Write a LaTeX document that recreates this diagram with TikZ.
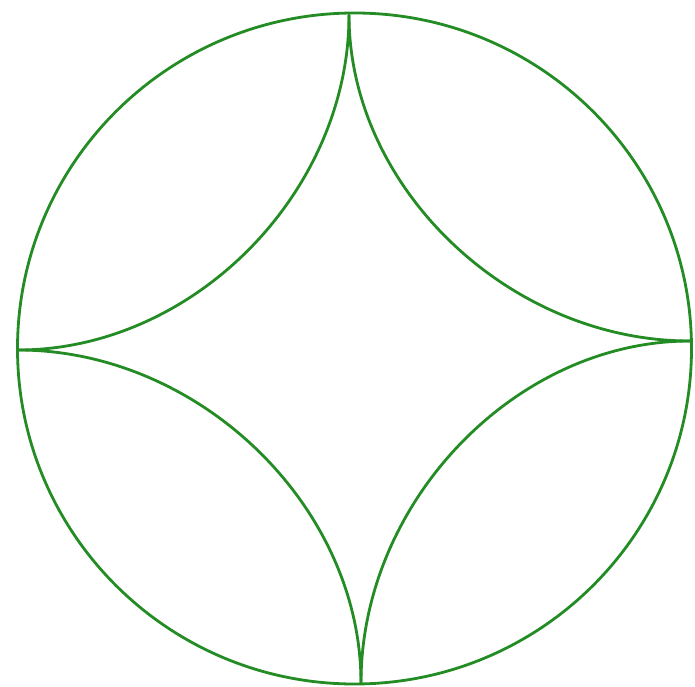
\documentclass[tikz,border=0pt]{standalone}
\usepackage{tikz}
\usetikzlibrary{calc}
\definecolor{curvegreen}{RGB}{36,140,36}
\tikzset{curve/.style={draw=curvegreen,line width=2.8pt,line join=round,line cap=round}}
\begin{document}
\begin{tikzpicture}[x=1pt,y=1pt]
\useasboundingbox (0,0) rectangle (695,686);
\coordinate (c) at (354.5,337.5);
\coordinate (top) at (349,671);
\coordinate (bot) at (361,3);
\coordinate (lft) at (18,336);
\coordinate (rgt) at (690,345);
\draw[curve] (c) ellipse[x radius=337,y radius=335.5];
\draw[curve] (top) .. controls ($(top)!0.53!(top|-lft)$) and ($(lft)!0.53!(top|-lft)$) .. (lft);
\draw[curve] (top) .. controls ($(top)!0.53!(top|-rgt)$) and ($(rgt)!0.53!(top|-rgt)$) .. (rgt);
\draw[curve] (bot) .. controls ($(bot)!0.53!(bot|-lft)$) and ($(lft)!0.53!(bot|-lft)$) .. (lft);
\draw[curve] (bot) .. controls ($(bot)!0.53!(bot|-rgt)$) and ($(rgt)!0.53!(bot|-rgt)$) .. (rgt);
\end{tikzpicture}
\end{document}
